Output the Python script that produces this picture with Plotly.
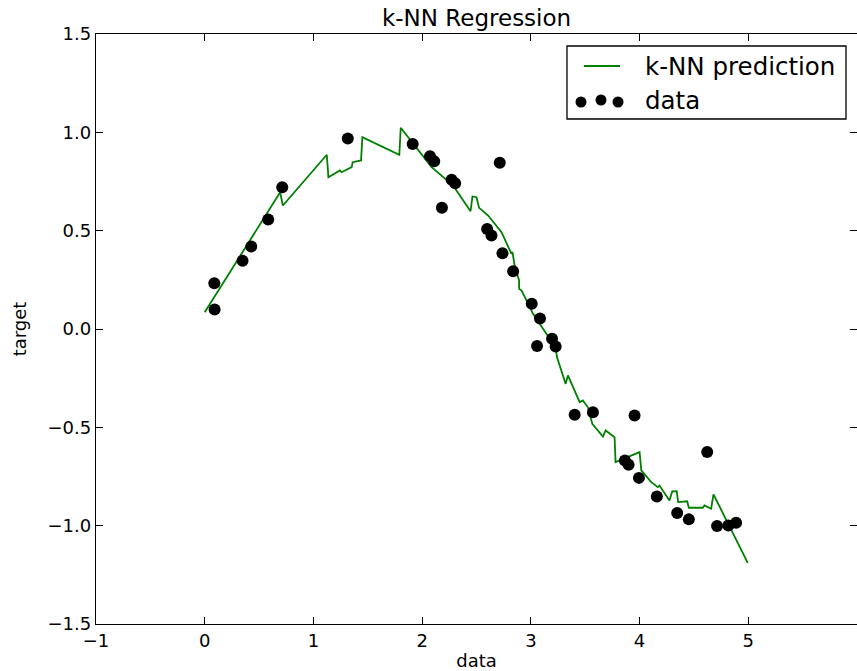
import plotly.graph_objects as go

# Observed samples
x_data = [0.088, 0.091, 0.348, 0.428, 0.584, 0.713, 1.316, 1.913, 2.072, 2.111,
          2.182, 2.271, 2.304, 2.598, 2.638, 2.714, 2.739, 2.837, 3.008, 3.057,
          3.084, 3.195, 3.228, 3.403, 3.571, 3.865, 3.899, 3.954, 3.994, 4.159,
          4.346, 4.453, 4.622, 4.713, 4.817, 4.888]
y_data = [0.233, 0.099, 0.347, 0.419, 0.557, 0.721, 0.969, 0.941, 0.879, 0.853,
          0.616, 0.759, 0.741, 0.509, 0.475, 0.845, 0.385, 0.294, 0.128, -0.087,
          0.053, -0.050, -0.089, -0.436, -0.423, -0.669, -0.690, -0.440, -0.757, -0.852,
          -0.936, -0.968, -0.626, -1.002, -0.999, -0.985]

# k-NN prediction evaluated on a grid over [0, 5]
x_pred = [0.000, 0.694, 0.719, 1.123, 1.138, 1.244, 1.259, 1.352, 1.361, 1.438,
          1.450, 1.790, 1.803, 2.087, 2.286, 2.347, 2.393, 2.445, 2.463, 2.500,
          2.524, 2.607, 2.730, 2.822, 2.830, 2.854, 2.892, 2.892, 2.914, 3.020,
          3.143, 3.228, 3.240, 3.320, 3.341, 3.449, 3.479, 3.525, 3.565, 3.663,
          3.688, 3.770, 3.779, 4.000, 4.016, 4.107, 4.168, 4.183, 4.275, 4.300,
          4.342, 4.355, 4.438, 4.453, 4.581, 4.597, 4.658, 4.680, 4.995]
y_pred = [0.085, 0.695, 0.628, 0.886, 0.772, 0.806, 0.797, 0.823, 0.848, 0.857,
          0.975, 0.886, 1.023, 0.823, 0.729, 0.679, 0.636, 0.599, 0.674, 0.670,
          0.616, 0.577, 0.492, 0.382, 0.392, 0.314, 0.247, 0.204, 0.196, 0.077,
          -0.024, -0.093, -0.143, -0.279, -0.236, -0.372, -0.363, -0.398, -0.482, -0.547,
          -0.516, -0.550, -0.677, -0.626, -0.719, -0.779, -0.804, -0.796, -0.872, -0.826,
          -0.825, -0.880, -0.876, -0.909, -0.909, -0.897, -0.914, -0.841, -1.189]

W, H = 857, 671
ML, MR, MT, MB = 96, 0, 34, 47
PW, PH = W - ML - MR, H - MT - MB
FONT = "DejaVu Sans"


def px(x):
    return (x - ML) / PW


def py(y):
    return (H - MB - y) / PH


fig = go.Figure()
fig.add_trace(go.Scatter(x=x_pred, y=y_pred, mode="lines", name="k-NN prediction",
                         line=dict(color="#008000", width=1.8), showlegend=False))
fig.add_trace(go.Scatter(x=x_data, y=y_data, mode="markers", name="data",
                         marker=dict(color="black", size=12), showlegend=False))

axis_common = dict(showgrid=False, zeroline=False, showline=True, linecolor="black",
                   linewidth=1.3, mirror="ticks", ticks="inside", ticklen=7,
                   tickcolor="black", tickwidth=1,
                   tickfont=dict(family=FONT, size=18, color="black"))

fig.update_xaxes(range=[-1, 6], dtick=1, tick0=0,
                 title=dict(text="data", font=dict(family=FONT, size=18, color="black"),
                            standoff=4),
                 **axis_common)
fig.update_yaxes(range=[-1.5, 1.5], dtick=0.5, tick0=0, tickformat=".1f",
                 title=dict(text="target", font=dict(family=FONT, size=18, color="black"),
                            standoff=16),
                 **axis_common)

# legend box drawn in paper space
shapes = [
    dict(type="rect", xref="paper", yref="paper", x0=px(567), x1=px(846), y0=py(119), y1=py(46),
         line=dict(color="black", width=1.3), fillcolor="white", layer="above"),
    dict(type="line", xref="paper", yref="paper", x0=px(584), x1=px(620), y0=py(66), y1=py(66),
         line=dict(color="#008000", width=1.8), layer="above"),
]
for cx, cy in [(581, 102), (601, 100), (618, 102)]:
    r = 5.5
    shapes.append(dict(type="circle", xref="paper", yref="paper",
                       x0=px(cx - r), x1=px(cx + r), y0=py(cy + r), y1=py(cy - r),
                       fillcolor="black", line=dict(color="black", width=0), layer="above"))

annotations = [
    dict(text="k-NN Regression", xref="paper", yref="paper", x=0.5, y=1, yanchor="bottom",
         yshift=1, showarrow=False, font=dict(family=FONT, size=23, color="black")),
    dict(text="k-NN prediction", xref="paper", yref="paper", x=px(643), y=py(66),
         xanchor="left", yanchor="middle", showarrow=False,
         font=dict(family=FONT, size=24.5, color="black")),
    dict(text="data", xref="paper", yref="paper", x=px(643), y=py(101),
         xanchor="left", yanchor="middle", showarrow=False,
         font=dict(family=FONT, size=24.5, color="black")),
]

fig.update_layout(width=W, height=H, margin=dict(l=ML, r=MR, t=MT, b=MB),
                  paper_bgcolor="white", plot_bgcolor="white",
                  shapes=shapes, annotations=annotations, showlegend=False,
                  font=dict(family=FONT, color="black"))

fig.write_html("out.html")
